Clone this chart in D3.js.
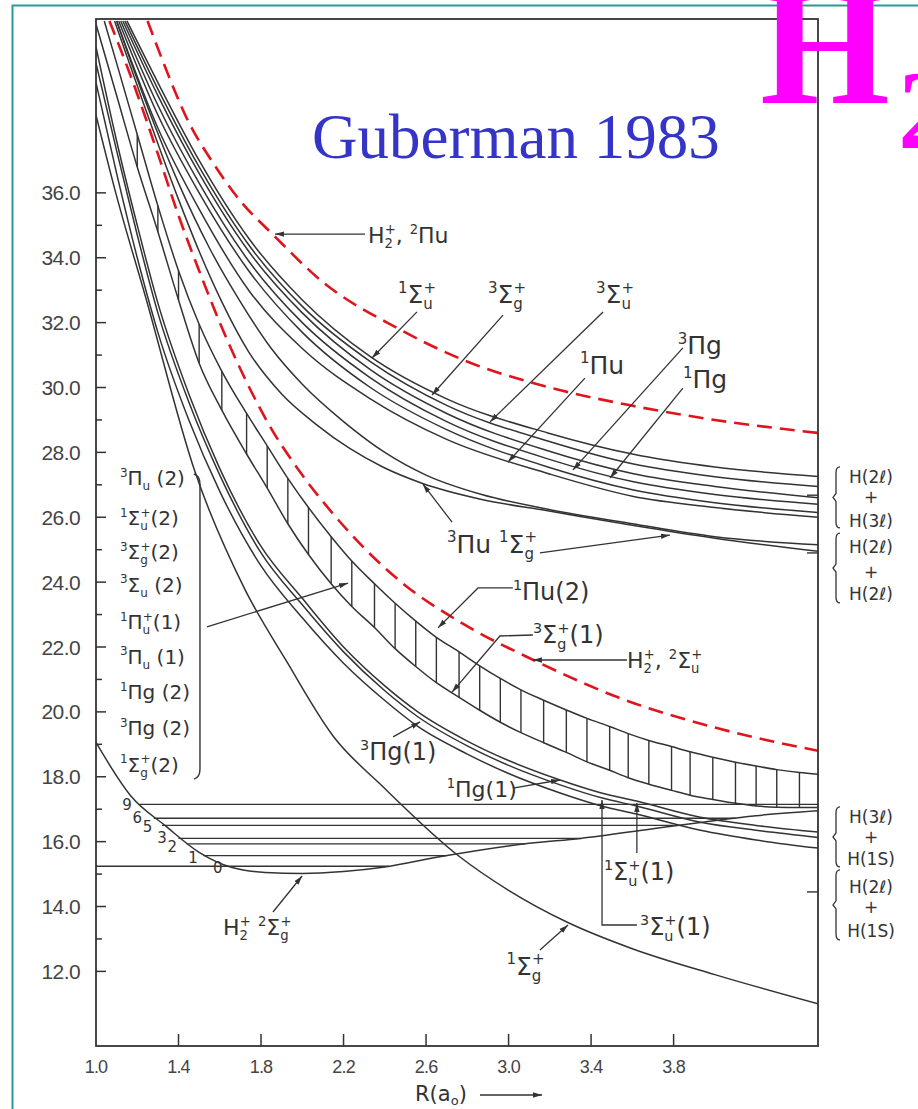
<!DOCTYPE html>
<html><head><meta charset="utf-8">
<script src="https://cdn.jsdelivr.net/npm/d3@7"></script>
<style>body{margin:0;background:#fff}svg{display:block}</style>
</head><body>
<svg id="c" width="918" height="1109"></svg>
<script>
// ---------------- DATA ----------------
const xTickValues = [1.0, 1.4, 1.8, 2.2, 2.6, 3.0, 3.4, 3.8];
const yMajorTicks = [12, 14, 16, 18, 20, 22, 24, 26, 28, 30, 32, 34, 36];
const yMinorTicks = [13, 15, 17, 19, 21, 23, 25, 27, 29, 31, 33, 35];
const asymptoteTicks = [26.68, 24.9, 14.45];

// red dashed H2+ curves  [R, E]
const h2pPiU = [[1.25,41.3],[1.34,39.8],[1.44,38.3],[1.57,36.9],[1.70,35.75],[1.86,34.7],[2.09,33.3],[2.47,31.8],[2.78,30.85],[3.2,30.0],[3.59,29.45],[4.0,29.0],[4.5,28.6]];
const h2pSigU = [[1.065,41.3],[1.18,39.4],[1.30,37.2],[1.40,35.3],[1.50,33.6],[1.60,32.0],[1.72,30.3],[1.83,28.95],[2.0,27.3],[2.15,26.1],[2.3,25.05],[2.48,24.0],[2.77,22.75],[3.12,21.6],[3.53,20.45],[4.01,19.5],[4.5,18.8]];

// upper bundle -> H(2l)+H(3l)
const bundleA1 = [[1.15,41.3],[1.3,39.4],[1.5,37.0],[1.74,34.6],[2.0,32.7],[2.33,30.95],[2.7,29.65],[3.19,28.6],[3.6,27.95],[4.0,27.55],[4.5,27.26]];
const bundleA2 = [[1.14,41.3],[1.3,39.2],[1.5,36.8],[1.74,34.4],[2.0,32.5],[2.33,30.8],[2.7,29.45],[3.19,28.35],[3.6,27.65],[4.0,27.25],[4.5,26.95]];
const bundleA3 = [[1.13,41.3],[1.3,39.0],[1.5,36.6],[1.74,34.2],[2.0,32.3],[2.33,30.55],[2.7,29.2],[3.19,28.05],[3.6,27.35],[4.0,26.95],[4.5,26.6]];
const bundleA4 = [[1.12,41.3],[1.3,38.7],[1.5,36.3],[1.74,33.9],[2.0,32.0],[2.33,30.3],[2.7,28.95],[3.19,27.8],[3.6,27.1],[4.0,26.7],[4.5,26.4]];
const bundleA5 = [[1.11,41.3],[1.3,38.4],[1.5,36.0],[1.74,33.6],[2.0,31.7],[2.33,30.0],[2.7,28.7],[3.19,27.55],[3.6,26.85],[4.0,26.45],[4.5,26.15]];
const bundleA6 = [[1.10,41.3],[1.3,38.0],[1.5,35.5],[1.74,33.0],[2.0,31.2],[2.33,29.65],[2.7,28.4],[3.19,27.35],[3.6,26.65],[4.0,26.3],[4.5,26.0]];

// -> H(2l)+H(2l)
const state3PiU = [[1.09,41.3],[1.2,39.3],[1.4,35.8],[1.5,34.2],[1.61,32.64],[1.74,31.1],[1.9,29.8],[2.07,28.85],[2.23,28.12],[2.39,27.55],[2.58,27.05],[2.87,26.55],[3.19,26.2],[3.6,25.75],[4.0,25.35],[4.5,24.95]];
const state1SigG = [[1.10,41.3],[1.2,39.5],[1.4,36.3],[1.55,34.3],[1.70,32.64],[1.85,31.2],[2.0,30.1],[2.2,28.95],[2.4,28.0],[2.6,27.3],[2.87,26.7],[3.19,26.25],[3.6,25.8],[4.0,25.4],[4.5,25.15]];

// hatched band (nine states listed in the bracket)
const hatchR   = [1.20,1.30,1.40,1.50,1.61,1.73,1.83,1.93,2.03,2.14,2.24,2.35,2.45,2.55,2.65,2.76,2.86,2.96,3.06,3.17,3.28,3.38,3.49,3.58,3.68,3.79,3.88,3.99,4.10,4.20,4.30,4.41];
const hatchTop = [37.8,35.6,33.6,31.95,30.5,29.2,28.2,27.2,26.3,25.4,24.65,23.95,23.35,22.8,22.3,21.85,21.42,21.03,20.68,20.36,20.06,19.8,19.55,19.33,19.12,18.93,18.77,18.6,18.45,18.33,18.22,18.13];
const hatchBot = [36.8,34.8,32.7,30.75,29.3,27.95,26.9,25.8,24.85,23.95,23.25,22.6,21.95,21.4,20.9,20.45,20.05,19.68,19.36,19.05,18.75,18.46,18.2,17.97,17.77,17.58,17.43,17.3,17.18,17.1,17.06,17.05];
const bandTopHead = [[1.04,41.3],[1.1,40.0]];
const bandTopTail = [[4.5,18.08]];
const bandBotHead = [[1.0,41.2],[1.1,39.0]];
const bandBotTail = [[4.5,17.05]];

// lower curves
const lowC1 = [[1.0,40.5],[1.1,37.6],[1.2,35.0],[1.3,32.6],[1.45,29.8],[1.6,27.5],[1.8,25.1],[2.0,23.5],[2.2,22.0],[2.4,20.8],[2.56,20.0],[2.8,19.1],[3.0,18.5],[3.25,17.9],[3.45,17.5],[3.62,17.25],[3.93,16.75],[4.2,16.5],[4.5,16.3]];
const lowC2 = [[1.0,40.0],[1.1,37.3],[1.2,34.7],[1.3,32.3],[1.45,29.55],[1.6,27.3],[1.8,24.9],[2.0,23.3],[2.2,21.85],[2.4,20.65],[2.56,19.85],[2.8,18.95],[3.0,18.35],[3.25,17.75],[3.45,17.35],[3.62,17.1],[3.93,16.6],[4.2,16.35],[4.5,16.13]];
const lowC3 = [[1.0,39.4],[1.1,36.6],[1.2,34.0],[1.3,31.7],[1.45,29.0],[1.6,26.8],[1.8,24.5],[2.0,22.9],[2.2,21.5],[2.4,20.35],[2.56,19.55],[2.8,18.7],[3.0,18.1],[3.25,17.5],[3.45,17.1],[3.62,16.85],[3.93,16.35],[4.2,16.05],[4.5,15.8]];
const big1SigG = [[1.0,38.4],[1.1,35.9],[1.24,32.8],[1.48,27.4],[1.72,23.8],[1.92,21.6],[2.15,19.25],[2.39,17.7],[2.76,15.55],[3.0,14.5],[3.29,13.5],[3.6,12.7],[4.0,11.9],[4.5,11.0]];

// H2+ ground state well and its vibrational levels
const well2SigG = [[1.0,19.06],[1.17,17.4],[1.34,16.47],[1.5,15.67],[1.66,15.2],[1.82,15.05],[2.0,15.02],[2.2,15.08],[2.4,15.22],[2.68,15.55],[3.1,15.95],[3.35,16.1],[3.7,16.4],[3.94,16.6],[4.2,16.8],[4.5,16.95]];
const levelNames  = ['0','1','2','3','5','6','9'];
const levelE      = [15.24,15.57,15.93,16.1,16.5,16.72,17.15];
const levelRLeft  = [1.0,1.52,1.44,1.40,1.32,1.28,1.21];
const levelRRight = [2.42,2.70,3.08,3.35,3.80,4.10,4.5];
const levelLabelR = [1.59,1.47,1.37,1.32,1.25,1.20,1.15];
const levelLabelE = [15.19,15.50,15.83,16.11,16.45,16.73,17.13];

// text labels [markup, R, E, size]
const curveLabels = [
  ['H_2^+, ^2Πu', 2.318, 34.45, 22],
  ['^1Σ_u^+', 2.464, 32.60, 25],
  ['^3Σ_g^+', 2.900, 32.60, 25],
  ['^3Σ_u^+', 3.424, 32.60, 25],
  ['^1Πu', 3.346, 30.42, 25],
  ['^3Πg', 3.820, 31.03, 25],
  ['^1Πg', 3.845, 29.98, 25],
  ['^3Πu  ^1Σ_g^+', 2.701, 24.90, 25],
  ['^1Πu(2)', 3.021, 23.45, 24],
  ['^3Σ_g^+(1)', 3.118, 22.12, 24],
  ['H_2^+, ^2Σ_u^+', 3.574, 21.35, 22],
  ['^3Πg(1)', 2.280, 18.52, 24],
  ['^1Πg(1)', 2.700, 17.38, 22],
  ['^1Σ_u^+(1)', 3.462, 14.82, 24],
  ['^3Σ_u^+(1)', 3.637, 13.12, 24],
  ['H_2^+  ^2Σ_g^+', 1.616, 13.12, 22],
  ['^1Σ_g^+', 2.990, 11.89, 25]
];
const leaders = [
  [[2.304,34.73],[1.868,34.73]],
  [[2.556,32.33],[2.338,30.91]],
  [[2.973,32.23],[2.629,29.77]],
  [[3.458,32.33],[2.910,28.94]],
  [[3.370,30.29],[2.997,27.70]],
  [[3.845,31.22],[3.312,27.46]],
  [[3.845,29.98],[3.492,27.21]],
  [[2.726,25.85],[2.585,27.02]],
  [[3.152,24.90],[3.782,25.45]],
  [[3.021,23.82],[2.852,23.82],[2.658,22.59]],
  [[3.118,22.37],[2.958,22.34],[2.726,20.61]],
  [[3.574,21.60],[3.118,21.60]],
  [[2.440,19.23],[2.571,19.69]],
  [[3.021,17.65],[3.249,17.90]],
  [[3.622,15.65],[3.622,17.19]],
  [[3.622,13.43],[3.453,13.43],[3.453,17.28]],
  [[1.858,13.83],[1.999,14.94]],
  [[3.152,12.66],[3.288,13.43]],
  [[1.538,22.62],[2.222,23.97]]
];
// bracketed list of nine states inside the hatched band
const bandStates = ['^3Π_u (2)','^1Σ_u^+(2)','^3Σ_g^+(2)','^3Σ_u (2)','^1Π_u^+(1)','^3Π_u (1)','^1Πg (2)','^3Πg (2)','^1Σ_g^+(2)'];
const bandStateE = [26.99,25.76,24.71,23.70,22.55,21.48,20.40,19.29,18.15];
// dissociation limits at right
const limitTop    = [27.55, 25.51, 17.07, 15.13];
const limitBottom = [25.67, 23.36, 15.22, 12.97];
const limitLines  = [['H(2ℓ)','+','H(3ℓ)'],['H(2ℓ)','+','H(2ℓ)'],['H(3ℓ)','+','H(1S)'],['H(2ℓ)','+','H(1S)']];
const limitLineE  = [[27.06,26.44,25.70],[24.90,24.12,23.45],[16.57,15.96,15.28],[14.42,13.80,13.06]];

// ---------------- DRAW ----------------
const svg = d3.select('#c');
const x = d3.scaleLinear().domain([1.0, 4.5]).range([96, 818]);
const y = d3.scaleLinear().domain([9.7, 41.36]).range([1046, 19]);
const ink = '#333';
const labelFont = "'DejaVu Sans', 'Liberation Sans', sans-serif";
const tickFont = "'Liberation Sans', Arial, sans-serif";

svg.append('rect').attr('width',918).attr('height',1109).attr('fill','#fff');

// teal slide frame
svg.append('path').attr('d','M12.5,1109 L12.5,5.5 L918,5.5').attr('fill','none').attr('stroke','#2a9a9a').attr('stroke-width',2);

const defs = svg.append('defs');
defs.append('clipPath').attr('id','plotclip').append('rect')
  .attr('x', x(1.0)).attr('y', y(41.36)).attr('width', x(4.5)-x(1.0)).attr('height', y(9.7)-y(41.36));
defs.append('marker').attr('id','arr').attr('viewBox','0 0 10 6').attr('refX',10).attr('refY',3)
  .attr('markerWidth',9).attr('markerHeight',6).attr('markerUnits','userSpaceOnUse').attr('orient','auto')
  .append('path').attr('d','M0,0 L10,3 L0,6 Z').attr('fill',ink);

const line = d3.line().x(d=>x(d[0])).y(d=>y(d[1])).curve(d3.curveMonotoneX);
const lin = d3.line().x(d=>x(d[0])).y(d=>y(d[1]));
const plot = svg.append('g').attr('clip-path','url(#plotclip)');

const blackCurves = [bundleA1,bundleA2,bundleA3,bundleA4,bundleA5,bundleA6,state3PiU,state1SigG,lowC1,lowC2,lowC3,big1SigG,well2SigG];
blackCurves.forEach(c => plot.append('path').attr('d', line(c)).attr('fill','none').attr('stroke',ink).attr('stroke-width',1.5));

// hatched band
const topPts = bandTopHead.concat(hatchR.map((r,i)=>[r,hatchTop[i]])).concat(bandTopTail);
const botPts = bandBotHead.concat(hatchR.map((r,i)=>[r,hatchBot[i]])).concat(bandBotTail);
plot.append('path').attr('d', line(topPts)).attr('fill','none').attr('stroke',ink).attr('stroke-width',1.5);
plot.append('path').attr('d', line(botPts)).attr('fill','none').attr('stroke',ink).attr('stroke-width',1.5);
plot.selectAll('line.hatch').data(hatchR).enter().append('line').attr('class','hatch')
  .attr('x1',r=>x(r)).attr('x2',r=>x(r)).attr('y1',(r,i)=>y(hatchTop[i])).attr('y2',(r,i)=>y(hatchBot[i]))
  .attr('stroke',ink).attr('stroke-width',1.4);

// vibrational levels
plot.selectAll('line.lev').data(levelE).enter().append('line').attr('class','lev')
  .attr('x1',(e,i)=>x(levelRLeft[i])).attr('x2',(e,i)=>x(levelRRight[i]))
  .attr('y1',e=>y(e)).attr('y2',e=>y(e)).attr('stroke',ink).attr('stroke-width',1.4);
svg.selectAll('text.lev').data(levelNames).enter().append('text').attr('class','lev')
  .attr('x',(d,i)=>x(levelLabelR[i])).attr('y',(d,i)=>y(levelLabelE[i]))
  .attr('text-anchor','middle').attr('dominant-baseline','central')
  .attr('font-family',labelFont).attr('font-size',15).attr('fill',ink).text(d=>d);

// red dashed
[h2pPiU, h2pSigU].forEach(c => plot.append('path').attr('d', line(c)).attr('fill','none')
  .attr('stroke','#e0141c').attr('stroke-width',2.6).attr('stroke-dasharray','15,8'));

// frame
svg.append('rect').attr('x', x(1.0)).attr('y', y(41.36)).attr('width', x(4.5)-x(1.0)).attr('height', y(9.7)-y(41.36))
  .attr('fill','none').attr('stroke',ink).attr('stroke-width',1.8);

// y ticks
svg.selectAll('line.ymaj').data(yMajorTicks).enter().append('line')
  .attr('x1',x(1.0)).attr('x2',x(1.0)+10).attr('y1',d=>y(d)).attr('y2',d=>y(d)).attr('stroke',ink).attr('stroke-width',1.5);
svg.selectAll('line.ymin').data(yMinorTicks).enter().append('line')
  .attr('x1',x(1.0)).attr('x2',x(1.0)+6).attr('y1',d=>y(d)).attr('y2',d=>y(d)).attr('stroke',ink).attr('stroke-width',1.5);
svg.selectAll('text.ylab').data(yMajorTicks).enter().append('text')
  .attr('x', x(1.0)-16).attr('y', d=>y(d)).attr('text-anchor','end').attr('dominant-baseline','central')
  .attr('font-family',tickFont).attr('font-size',21).attr('letter-spacing',-0.6).attr('fill','#444')
  .text(d=>d.toFixed(1));
// x ticks
svg.selectAll('line.xt').data(xTickValues.slice(1)).enter().append('line')
  .attr('x1',d=>x(d)).attr('x2',d=>x(d)).attr('y1',y(9.7)).attr('y2',y(9.7)-12).attr('stroke',ink).attr('stroke-width',1.5);
svg.selectAll('text.xlab').data(xTickValues).enter().append('text')
  .attr('x', d=>x(d)).attr('y', y(9.7)+21).attr('text-anchor','middle').attr('dominant-baseline','central')
  .attr('font-family',tickFont).attr('font-size',18).attr('letter-spacing',-0.8).attr('fill','#444')
  .text(d=>d.toFixed(1));
// asymptote ticks on right axis
svg.selectAll('line.as').data(asymptoteTicks).enter().append('line')
  .attr('x1',x(4.5)).attr('x2',x(4.5)-11).attr('y1',d=>y(d)).attr('y2',d=>y(d)).attr('stroke',ink).attr('stroke-width',1.4);

// axis title
const xt = svg.append('text').attr('x', 415).attr('y', y(9.7)+55).attr('font-family',labelFont).attr('font-size',21).attr('fill',ink);
xt.append('tspan').text('R(a');
xt.append('tspan').attr('font-size',13).attr('dy',4).text('o');
xt.append('tspan').attr('dy',-4).text(')');
svg.append('line').attr('x1',480).attr('x2',542).attr('y1',y(9.7)+49).attr('y2',y(9.7)+49).attr('stroke',ink).attr('stroke-width',1.5).attr('marker-end','url(#arr)');

// rich text helper: ^c superscript, _c subscript (a ^ right after _ stacks above it)
function rich(g, str, px, py, size, anchor) {
  const t = g.append('text').attr('x',px).attr('y',py).attr('font-size',size)
    .attr('text-anchor',anchor||'start').attr('fill',ink).attr('font-family',labelFont);
  let cur = 0, buf = '', prevSub = false;
  const sup = -0.42*size, sub = 0.24*size, small = size*0.6;
  const flush = () => { if (buf) { t.append('tspan').attr('dy', 0-cur).text(buf); cur = 0; buf=''; prevSub=false; } };
  for (let i=0;i<str.length;i++) {
    const ch = str[i];
    if ((ch==='^' || ch==='_') && i+1<str.length) {
      const c = str[i+1]; i++;
      flush();
      const target = ch==='^' ? sup : sub;
      const ts = t.append('tspan').attr('font-size',small).attr('dy', target-cur).text(c);
      if (ch==='^' && prevSub) ts.attr('dx', -small*0.62);
      cur = target; prevSub = (ch==='_');
    } else buf += ch;
  }
  flush();
  return t;
}

const lab = svg.append('g');
curveLabels.forEach(d => rich(lab, d[0], x(d[1]), y(d[2]), d[3]));
leaders.forEach(p => svg.append('path').attr('d', lin(p)).attr('fill','none').attr('stroke',ink).attr('stroke-width',1.3).attr('marker-end','url(#arr)'));

// bracketed list
bandStates.forEach((s,i) => rich(lab, s, x(1.116), y(bandStateE[i]), 20));
const bx = x(1.504), bt = y(27.21), bb = y(18.05);
svg.append('path').attr('d',`M${bx-6},${bt-4} Q${bx},${bt-2} ${bx},${bt+6} L${bx},${bb-6} Q${bx},${bb+2} ${bx-6},${bb+4}`)
  .attr('fill','none').attr('stroke',ink).attr('stroke-width',1.4);

// dissociation limit braces and labels
limitTop.forEach((et,i) => {
  const yt = y(et), yb = y(limitBottom[i]), xm = 836, ym = (yt+yb)/2;
  svg.append('path').attr('d',`M${xm+4},${yt} Q${xm},${yt} ${xm},${yt+6} L${xm},${ym-4} L${xm-3},${ym} L${xm},${ym+4} L${xm},${yb-6} Q${xm},${yb} ${xm+4},${yb}`)
    .attr('fill','none').attr('stroke',ink).attr('stroke-width',1.3);
  limitLines[i].forEach((s,j) => {
    svg.append('text').attr('x', 871).attr('y', y(limitLineE[i][j])).attr('text-anchor','middle')
      .attr('font-family',labelFont).attr('font-size',17).attr('fill',ink).text(s);
  });
});

// titles
svg.append('text').attr('x',312).attr('y',158).attr('font-family',"'Liberation Serif','Times New Roman',serif")
  .attr('font-size',63).attr('fill','#3434c8').text('Guberman 1983');
svg.append('text').attr('x',760).attr('y',103).attr('font-family',"'Liberation Serif','Times New Roman',serif")
  .attr('font-weight','bold').attr('font-size',167).attr('fill','#ff00ff').text('H');
svg.append('text').attr('x',898).attr('y',148).attr('font-family',"'Liberation Serif','Times New Roman',serif")
  .attr('font-weight','bold').attr('font-size',112).attr('fill','#ff00ff').text('2');
</script>
</body></html>
